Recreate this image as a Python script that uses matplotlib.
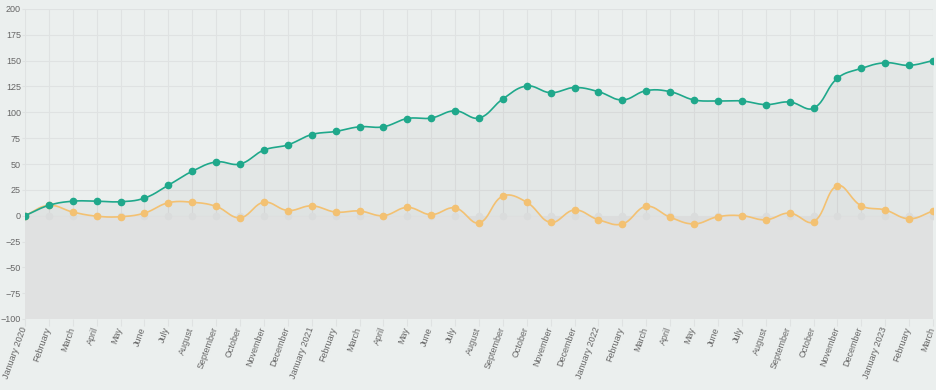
import numpy as np
import matplotlib
matplotlib.use('Agg')
import matplotlib.pyplot as plt

plt.rcParams['font.family'] = ['Liberation Sans', 'DejaVu Sans']

# monthly labels, Jan 2020 .. Mar 2023
labels = ['January 2020', 'February', 'March', 'April', 'May', 'June', 'July',
          'August', 'September', 'October', 'November', 'December',
          'January 2021', 'February', 'March', 'April', 'May', 'June', 'July',
          'August', 'September', 'October', 'November', 'December',
          'January 2022', 'February', 'March', 'April', 'May', 'June', 'July',
          'August', 'September', 'October', 'November', 'December',
          'January 2023', 'February', 'March']

total = [0, 10, 14, 14, 13.5, 17, 29.5, 43, 52, 50, 63.5, 68.5,
         78.5, 81.5, 86, 86, 94, 94.5, 101.5, 94.5, 113, 125.5, 119, 124,
         120, 112, 121, 120, 112, 111, 111, 107.5, 110, 104, 133, 142.5,
         148, 145.5, 150]
monthly = [0, 10, 3.5, -0.5, -1, 2.5, 12.5, 13, 9, -2, 13, 5,
           9.5, 3.5, 4.5, 0, 8, 1, 7.5, -7, 19, 13, -6.5, 5.5,
           -4, -8, 9, -1.5, -8, -1, 0, -4, 2.5, -6, 29, 9.5,
           5.5, -3, 4.5]
baseline = [0] * len(labels)

GREEN = '#1fa88b'
ORANGE = '#f3c172'


def smooth(x, y, t=0.4, sx=23.9, sy=1.033, n=20):
    # chart.js style bezier spline (tension 0.4), distances in pixel space
    x = np.asarray(x, float)
    y = np.asarray(y, float)
    px, py = x * sx, y * sy
    m = len(x)
    cpl = np.zeros((m, 2))
    cpr = np.zeros((m, 2))
    for i in range(m):
        a = max(i - 1, 0)
        b = min(i + 1, m - 1)
        d01 = np.hypot(px[i] - px[a], py[i] - py[a])
        d12 = np.hypot(px[b] - px[i], py[b] - py[i])
        tot = d01 + d12
        s01 = d01 / tot if tot else 0
        s12 = d12 / tot if tot else 0
        dx, dy = px[b] - px[a], py[b] - py[a]
        cpl[i] = (px[i] - t * s01 * dx, py[i] - t * s01 * dy)
        cpr[i] = (px[i] + t * s12 * dx, py[i] + t * s12 * dy)
    xs, ys = [], []
    u = np.linspace(0, 1, n)
    for i in range(m - 1):
        p0 = np.array([px[i], py[i]])
        p1 = cpr[i]
        p2 = cpl[i + 1]
        p3 = np.array([px[i + 1], py[i + 1]])
        pts = ((1 - u)[:, None] ** 3 * p0 + 3 * ((1 - u) ** 2 * u)[:, None] * p1
               + 3 * ((1 - u) * u ** 2)[:, None] * p2 + (u ** 3)[:, None] * p3)
        xs.extend(pts[:, 0] / sx)
        ys.extend(pts[:, 1] / sy)
    return np.array(xs), np.array(ys)


x = np.arange(len(labels))

fig = plt.figure(figsize=(9.36, 3.9), dpi=100)
fig.patch.set_facecolor('#ebefee')
ax = fig.add_axes([25 / 936, 71 / 390, 908 / 936, 310 / 390])
ax.set_facecolor('#ebefee')

ax.fill_between(x, baseline, -100, color='#e0e1e1', lw=0, zorder=1)
gx, gy = smooth(x, total)
ax.fill_between(gx, gy, 0, color='#000000', alpha=0.03, lw=0, zorder=1)
ox, oy = smooth(x, monthly)
ax.fill_between(ox, oy, 0, color='#000000', alpha=0.015, lw=0, zorder=1)

ax.plot(x, baseline, 'o', color='#dadcdc', ms=4.5, zorder=2)
ax.plot(ox, oy, color=ORANGE, lw=1.2, zorder=3)
ax.plot(x, monthly, 'o', color=ORANGE, ms=4.5, zorder=4)
ax.plot(gx, gy, color=GREEN, lw=1.2, zorder=5)
ax.plot(x, total, 'o', color=GREEN, ms=4.5, zorder=6)

ax.set_xlim(0, len(labels) - 1)
ax.set_ylim(-100, 200)
ax.set_yticks(np.arange(-100, 201, 25))
ax.set_xticks(x)
ax.set_xticklabels([])
# rotated month labels, top end sitting just under each tick
for xi, lab in zip(x, labels):
    ax.annotate(lab, xy=(xi, 0), xycoords=('data', 'axes fraction'),
                xytext=(-5, -7), textcoords='offset pixels',
                rotation=70, ha='right', va='top', rotation_mode='anchor',
                fontsize=6.5, color='#666666', annotation_clip=False)
ax.grid(True, color='#dfe2e2', lw=0.8)
ax.set_axisbelow(True)
for s in ax.spines.values():
    s.set_visible(False)
ax.tick_params(axis='both', colors='#dfe2e2', labelcolor='#666666',
               length=5, width=0.8, labelsize=6.5, pad=1)
ax.tick_params(axis='y', length=2, pad=1)

fig.savefig('out.png', dpi=100, facecolor=fig.get_facecolor())
